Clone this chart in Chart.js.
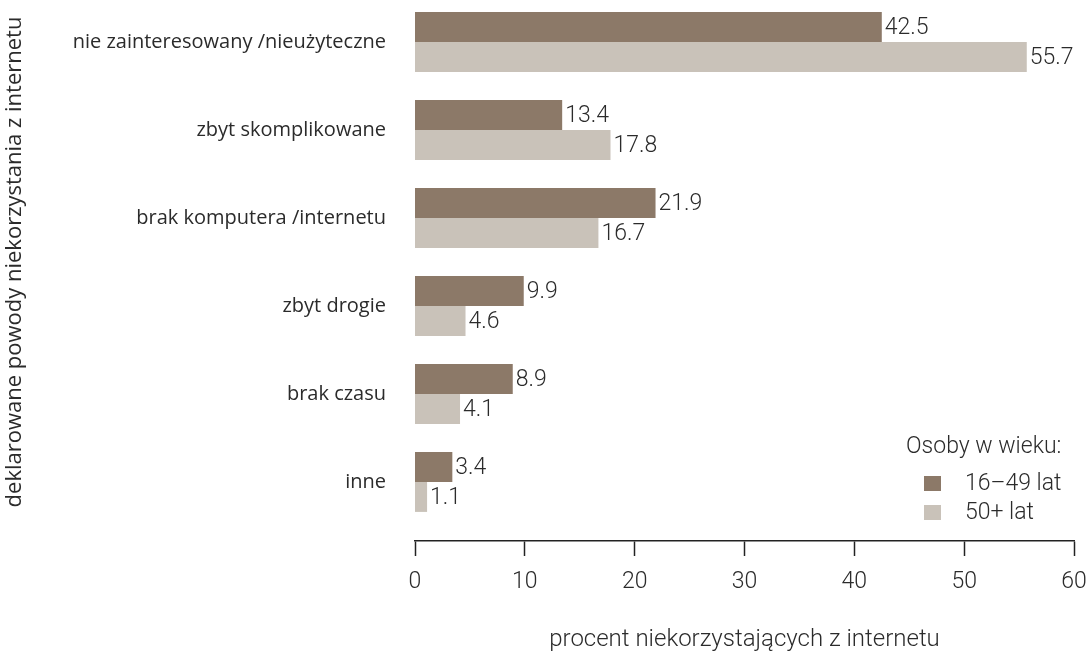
<!DOCTYPE html>
<html>
<head>
<meta charset="utf-8">
<script src="https://cdn.jsdelivr.net/npm/chart.js@4/dist/chart.umd.min.js"></script>
<style>
  html, body { margin: 0; padding: 0; background: #fff; overflow: hidden; }
  #wrap { width: 1087px; height: 654px; position: relative; overflow: hidden; }
  #reasonsChart { position: absolute; left: 0; top: -2px; }
</style>
</head>
<body>
<div id="wrap"><canvas id="reasonsChart" width="1087" height="656"></canvas></div>
<script>
// Data
const categories = [
    'nie zainteresowany /nieużyteczne',
    'zbyt skomplikowane',
    'brak komputera /internetu',
    'zbyt drogie',
    'brak czasu',
    'inne',
];
const young = [42.5, 13.4, 21.9, 9.9, 8.9, 3.4];   // 16–49 lat
const older = [55.7, 17.8, 16.7, 4.6, 4.1, 1.1];   // 50+ lat
const xTicks = [0, 10, 20, 30, 40, 50, 60];
const seriesNames = ['16–49 lat', '50+ lat'];
const legendTitle = 'Osoby w wieku:';

const numFont = 'Roboto';
const labelFont = '"Open Sans"';
const textColor = '#2b2b2b';

// value labels at the end of each bar
const valueLabels = {
    id: 'valueLabels',
    afterDatasetsDraw(chart) {
        const ctx = chart.ctx;
        ctx.save();
        ctx.font = '300 23px ' + numFont;
        ctx.fillStyle = textColor;
        ctx.textBaseline = 'middle';
        ctx.textAlign = 'left';
        chart.data.datasets.forEach(function (ds, i) {
            chart.getDatasetMeta(i).data.forEach(function (bar, j) {
                ctx.fillText(ds.data[j].toFixed(1), bar.x + 3, bar.y + 1);
            });
        });
        ctx.restore();
    }
};

// legend box in the lower right corner
const cornerLegend = {
    id: 'cornerLegend',
    afterDraw(chart) {
        const ctx = chart.ctx;
        ctx.save();
        ctx.font = '300 23px ' + numFont;
        ctx.fillStyle = textColor;
        ctx.textBaseline = 'middle';
        ctx.fillText(legendTitle, 906, 449);
        chart.data.datasets.forEach(function (ds, i) {
            const y = 486 + i * 29;
            ctx.fillStyle = ds.backgroundColor;
            ctx.fillRect(924, y - 8, 17, 15);
            ctx.fillStyle = textColor;
            ctx.fillText(ds.label, 965, y);
        });
        ctx.restore();
    }
};

document.addEventListener('DOMContentLoaded', function () {
    const ctx = document.getElementById('reasonsChart').getContext('2d');
    new Chart(ctx, {
        type: 'bar',
        data: {
            labels: categories,
            datasets: [
                {
                    label: seriesNames[0],
                    data: young,
                    backgroundColor: '#8c7968',
                },
                {
                    label: seriesNames[1],
                    data: older,
                    backgroundColor: '#c9c2b9',
                },
            ],
        },
        options: {
            indexAxis: 'y',
            responsive: false,
            animation: false,
            devicePixelRatio: 1,
            categoryPercentage: 0.68,
            barPercentage: 1,
            layout: { padding: { top: 0, right: 13, bottom: 0, left: 0 } },
            plugins: {
                legend: { display: false },
                tooltip: { enabled: false },
            },
            scales: {
                y: {
                    grid: { display: false, drawTicks: false },
                    border: { display: false },
                    ticks: {
                        color: textColor,
                        font: { family: labelFont, size: 20, weight: 400 },
                        padding: 29,
                    },
                    title: {
                        display: true,
                        text: 'deklarowane powody niekorzystania z internetu',
                        color: textColor,
                        font: { family: labelFont, size: 22, weight: 400 },
                        padding: { top: 2, bottom: 0 },
                    },
                    afterFit: function (scale) {
                        scale.width = 415;
                        scale.paddingTop = 0;
                        scale.paddingBottom = 0;
                    },
                },
                xpad: {
                    type: 'linear',
                    position: 'bottom',
                    weight: 0,
                    grid: { display: false },
                    border: { display: false },
                    ticks: { display: false },
                    afterFit: function (scale) { scale.height = 15; },
                },
                x: {
                    type: 'linear',
                    position: 'bottom',
                    weight: 10,
                    min: 0,
                    max: 60,
                    afterBuildTicks: function (scale) {
                        scale.ticks = xTicks.map(function (v) { return { value: v }; });
                    },
                    grid: {
                        drawOnChartArea: false,
                        tickLength: 15,
                        tickWidth: 1.5,
                        color: '#222',
                    },
                    border: { display: true, color: '#222', width: 1.5 },
                    ticks: {
                        color: textColor,
                        font: { family: numFont, size: 23, weight: 300 },
                        padding: 12,
                        maxRotation: 0,
                    },
                    title: {
                        display: true,
                        text: 'procent niekorzystających z internetu',
                        color: textColor,
                        font: { family: numFont, size: 24, weight: 300 },
                        padding: { top: 0, bottom: 0 },
                    },
                    afterFit: function (scale) {
                        scale.height = 113;
                        scale.paddingRight = 13;
                    },
                },
            },
        },
        plugins: [valueLabels, cornerLegend],
    });
});
</script>
</body>
</html>
